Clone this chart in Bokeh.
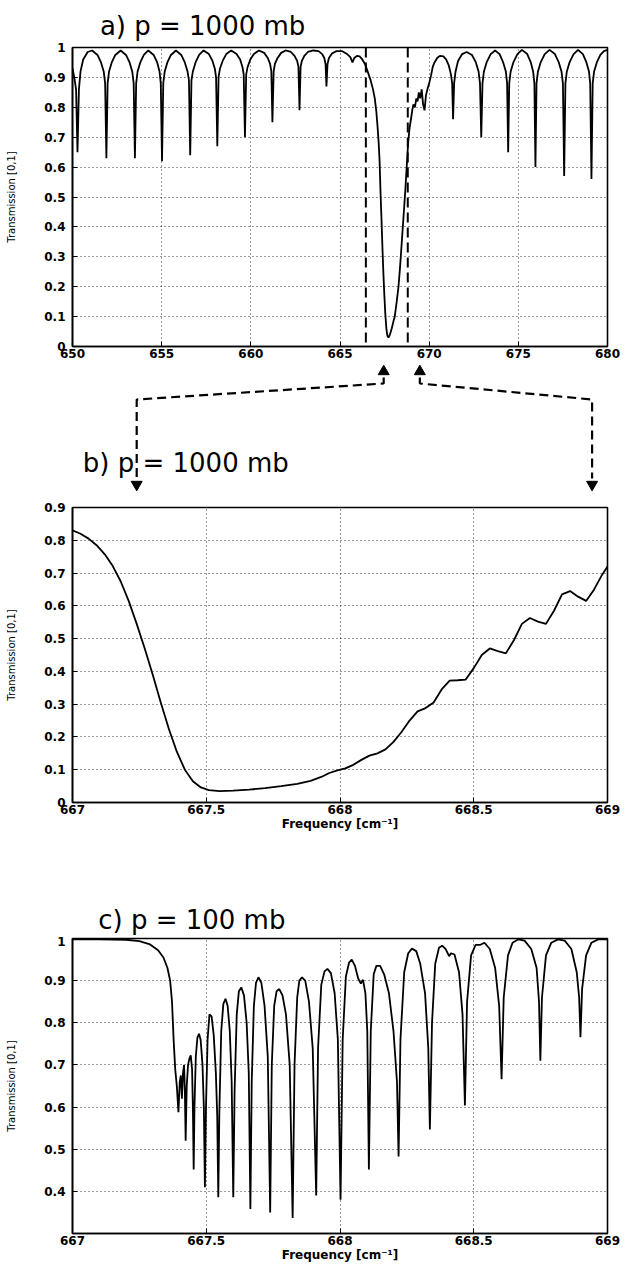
from bokeh.plotting import figure
from bokeh.layouts import column
from bokeh.models import Range1d, FixedTicker, Span
from bokeh.core.properties import value
from bokeh.embed import file_html
from bokeh.resources import INLINE

# ---------------- texts ----------------
panel_titles = ["a) p = 1000 mb", "b) p = 1000 mb", "c) p = 100 mb"]
y_axis_label = "Transmission [0,1]"
x_axis_label = "Frequency [cm\u207b\u00b9]"

# ---------------- ticks ----------------
a_x_ticks = [650, 655, 660, 665, 670, 675, 680]
a_x_tick_labels = ["650", "655", "660", "665", "670", "675", "680"]
a_y_ticks = [0, 0.1, 0.2, 0.3, 0.4, 0.5, 0.6, 0.7, 0.8, 0.9, 1]
a_y_tick_labels = ["0", "0.1", "0.2", "0.3", "0.4", "0.5", "0.6", "0.7", "0.8", "0.9", "1"]
bc_x_ticks = [667, 667.5, 668, 668.5, 669]
bc_x_tick_labels = ["667", "667.5", "668", "668.5", "669"]
b_y_ticks = [0, 0.1, 0.2, 0.3, 0.4, 0.5, 0.6, 0.7, 0.8, 0.9]
b_y_tick_labels = ["0", "0.1", "0.2", "0.3", "0.4", "0.5", "0.6", "0.7", "0.8", "0.9"]
c_y_ticks = [0.4, 0.5, 0.6, 0.7, 0.8, 0.9, 1]
c_y_tick_labels = ["0.4", "0.5", "0.6", "0.7", "0.8", "0.9", "1"]

# zoom window marked in panel a (dashed lines)
zoom_window = [666.45, 668.8]

# ---------------- panel a : p = 1000 mb, 650-680 cm-1 ----------------
a_freq = [
    650.00, 650.10, 650.20, 650.28, 650.36, 650.45, 650.60, 650.85, 651.10, 651.40,
    651.60, 651.75, 651.83, 651.90, 651.97, 652.05, 652.20, 652.40, 652.70, 653.00,
    653.20, 653.35, 653.43, 653.50, 653.57, 653.65, 653.80, 654.00, 654.25, 654.55,
    654.75, 654.88, 654.95, 655.02, 655.09, 655.17, 655.32, 655.52, 655.80, 656.10,
    656.30, 656.45, 656.53, 656.60, 656.67, 656.75, 656.90, 657.10, 657.35, 657.65,
    657.85, 657.98, 658.05, 658.12, 658.19, 658.27, 658.42, 658.62, 658.90, 659.20,
    659.40, 659.53, 659.60, 659.67, 659.74, 659.82, 659.97, 660.17, 660.45, 660.75,
    660.95, 661.08, 661.15, 661.21, 661.28, 661.35, 661.50, 661.70, 661.95, 662.25,
    662.45, 662.60, 662.67, 662.73, 662.79, 662.86, 663.00, 663.20, 663.50, 663.80,
    664.00, 664.12, 664.19, 664.24, 664.30, 664.38, 664.55, 664.80, 665.10, 665.40,
    665.58, 665.70, 665.80, 665.95, 666.10, 666.25, 666.40, 666.55, 666.72, 666.85,
    666.95, 667.03, 667.10, 667.17, 667.22, 667.27, 667.33, 667.38, 667.43, 667.48,
    667.54, 667.60, 667.66, 667.72, 667.80, 667.90, 668.00, 668.07, 668.18, 668.28,
    668.36, 668.42, 668.50, 668.58, 668.66, 668.74, 668.82, 668.90, 668.98, 669.05,
    669.12, 669.20, 669.28, 669.35, 669.42, 669.50, 669.58, 669.66, 669.74, 669.82,
    669.90, 670.00, 670.10, 670.20, 670.30, 670.45, 670.60, 670.80, 670.95, 671.10,
    671.22, 671.29, 671.34, 671.40, 671.48, 671.62, 671.85, 672.10, 672.40, 672.62,
    672.77, 672.85, 672.92, 672.99, 673.07, 673.22, 673.45, 673.70, 673.95, 674.15,
    674.30, 674.37, 674.43, 674.49, 674.57, 674.72, 674.95, 675.20, 675.50, 675.70,
    675.83, 675.90, 675.96, 676.02, 676.10, 676.25, 676.48, 676.75, 677.05, 677.27,
    677.42, 677.50, 677.57, 677.64, 677.72, 677.87, 678.10, 678.35, 678.62, 678.82,
    678.96, 679.03, 679.10, 679.17, 679.25, 679.40, 679.60, 679.80, 680.00,
]
a_trans = [
    0.930, 0.900, 0.860, 0.650, 0.860, 0.920, 0.960, 0.985, 0.990, 0.975,
    0.950, 0.920, 0.880, 0.630, 0.880, 0.920, 0.950, 0.975, 0.990, 0.975,
    0.950, 0.920, 0.880, 0.630, 0.880, 0.920, 0.950, 0.975, 0.990, 0.975,
    0.950, 0.920, 0.880, 0.620, 0.880, 0.920, 0.950, 0.975, 0.990, 0.975,
    0.950, 0.920, 0.890, 0.640, 0.890, 0.920, 0.950, 0.975, 0.990, 0.978,
    0.955, 0.930, 0.900, 0.670, 0.900, 0.930, 0.955, 0.978, 0.990, 0.978,
    0.960, 0.935, 0.910, 0.700, 0.910, 0.935, 0.960, 0.978, 0.990, 0.982,
    0.965, 0.945, 0.920, 0.750, 0.920, 0.945, 0.965, 0.982, 0.990, 0.985,
    0.972, 0.955, 0.935, 0.790, 0.935, 0.955, 0.972, 0.985, 0.990, 0.988,
    0.978, 0.965, 0.945, 0.870, 0.945, 0.965, 0.980, 0.988, 0.988, 0.978,
    0.968, 0.950, 0.965, 0.972, 0.970, 0.960, 0.945, 0.920, 0.890, 0.860,
    0.830, 0.790, 0.740, 0.680, 0.620, 0.520, 0.420, 0.330, 0.250, 0.180,
    0.110, 0.060, 0.035, 0.030, 0.040, 0.060, 0.085, 0.100, 0.150, 0.200,
    0.260, 0.310, 0.380, 0.450, 0.520, 0.600, 0.680, 0.730, 0.760, 0.790,
    0.810, 0.800, 0.830, 0.820, 0.850, 0.830, 0.860, 0.810, 0.790, 0.840,
    0.860, 0.880, 0.905, 0.935, 0.950, 0.965, 0.972, 0.970, 0.960, 0.940,
    0.910, 0.880, 0.760, 0.880, 0.920, 0.955, 0.978, 0.985, 0.975, 0.950,
    0.920, 0.880, 0.700, 0.880, 0.920, 0.950, 0.978, 0.990, 0.978, 0.950,
    0.920, 0.880, 0.650, 0.880, 0.920, 0.950, 0.978, 0.992, 0.978, 0.950,
    0.920, 0.880, 0.600, 0.880, 0.920, 0.950, 0.978, 0.992, 0.978, 0.950,
    0.920, 0.880, 0.570, 0.880, 0.920, 0.950, 0.978, 0.992, 0.978, 0.950,
    0.920, 0.880, 0.560, 0.880, 0.920, 0.950, 0.975, 0.988, 0.992,
]

# ---------------- panel b : p = 1000 mb, 667-669 cm-1 ----------------
b_freq = [
    667.00, 667.03, 667.06, 667.09, 667.12, 667.15, 667.18, 667.21, 667.24, 667.27,
    667.30, 667.33, 667.36, 667.39, 667.42, 667.45, 667.48, 667.51, 667.55, 667.60,
    667.66, 667.72, 667.78, 667.84, 667.89, 667.93, 667.96, 667.99, 668.02, 668.05,
    668.08, 668.11, 668.14, 668.17, 668.20, 668.23, 668.26, 668.29, 668.32, 668.35,
    668.38, 668.41, 668.44, 668.47, 668.50, 668.53, 668.56, 668.59, 668.62, 668.65,
    668.68, 668.71, 668.74, 668.77, 668.80, 668.83, 668.86, 668.89, 668.92, 668.95,
    668.98, 669.00,
]
b_trans = [
    0.830, 0.820, 0.805, 0.785, 0.758, 0.722, 0.675, 0.615, 0.545, 0.470,
    0.390, 0.305, 0.225, 0.155, 0.100, 0.065, 0.046, 0.038, 0.035, 0.036,
    0.039, 0.044, 0.050, 0.057, 0.066, 0.078, 0.090, 0.098, 0.104, 0.115,
    0.130, 0.143, 0.150, 0.162, 0.185, 0.215, 0.250, 0.278, 0.288, 0.305,
    0.345, 0.372, 0.373, 0.375, 0.410, 0.450, 0.470, 0.462, 0.455, 0.495,
    0.545, 0.563, 0.552, 0.545, 0.585, 0.635, 0.645, 0.628, 0.615, 0.650,
    0.695, 0.720,
]

# ---------------- panel c : p = 100 mb, 667-669 cm-1 ----------------
c_freq = [
    667.000, 667.100, 667.200, 667.250, 667.290, 667.320, 667.340, 667.355, 667.365, 667.372,
    667.378, 667.384, 667.390, 667.396, 667.401, 667.405, 667.409, 667.413, 667.417, 667.420,
    667.423, 667.427, 667.432, 667.437, 667.442, 667.447, 667.450, 667.453, 667.456, 667.461,
    667.467, 667.473, 667.479, 667.486, 667.491, 667.495, 667.499, 667.505, 667.512, 667.520,
    667.528, 667.536, 667.541, 667.545, 667.549, 667.556, 667.564, 667.572, 667.580, 667.588,
    667.595, 667.601, 667.606, 667.614, 667.622, 667.631, 667.641, 667.651, 667.659, 667.665,
    667.670, 667.678, 667.686, 667.695, 667.706, 667.718, 667.730, 667.739, 667.745, 667.754,
    667.763, 667.773, 667.785, 667.798, 667.812, 667.823, 667.830, 667.840, 667.848, 667.858,
    667.870, 667.884, 667.898, 667.911, 667.918, 667.930, 667.942, 667.953, 667.966, 667.980,
    667.992, 668.002, 668.010, 668.022, 668.034, 668.044, 668.056, 668.068, 668.078, 668.086,
    668.095, 668.102, 668.108, 668.115, 668.126, 668.136, 668.150, 668.165, 668.183, 668.200,
    668.213, 668.219, 668.226, 668.240, 668.255, 668.269, 668.285, 668.300, 668.318, 668.330,
    668.336, 668.344, 668.356, 668.370, 668.382, 668.395, 668.408, 668.415, 668.428, 668.445,
    668.458, 668.467, 668.475, 668.490, 668.507, 668.525, 668.540, 668.560, 668.580, 668.595,
    668.604, 668.612, 668.628, 668.645, 668.667, 668.690, 668.715, 668.735, 668.744, 668.749,
    668.755, 668.770, 668.790, 668.815, 668.840, 668.865, 668.885, 668.894, 668.899, 668.905,
    668.920, 668.940, 668.965, 669.000,
]
c_trans = [
    0.998, 0.998, 0.997, 0.994, 0.986, 0.972, 0.955, 0.930, 0.900, 0.850,
    0.760, 0.690, 0.650, 0.588, 0.660, 0.675, 0.620, 0.680, 0.700, 0.640,
    0.520, 0.650, 0.700, 0.715, 0.723, 0.690, 0.600, 0.452, 0.600, 0.720,
    0.765, 0.774, 0.760, 0.700, 0.600, 0.410, 0.600, 0.760, 0.820, 0.815,
    0.770, 0.680, 0.580, 0.386, 0.590, 0.780, 0.845, 0.857, 0.840, 0.780,
    0.660, 0.386, 0.640, 0.820, 0.875, 0.884, 0.865, 0.800, 0.680, 0.358,
    0.660, 0.840, 0.895, 0.908, 0.895, 0.840, 0.720, 0.350, 0.700, 0.840,
    0.875, 0.880, 0.865, 0.820, 0.700, 0.337, 0.700, 0.860, 0.900, 0.908,
    0.900, 0.850, 0.740, 0.390, 0.740, 0.890, 0.922, 0.928, 0.918, 0.870,
    0.760, 0.380, 0.760, 0.910, 0.943, 0.950, 0.935, 0.905, 0.893, 0.902,
    0.870, 0.780, 0.452, 0.780, 0.915, 0.935, 0.935, 0.915, 0.870, 0.780,
    0.660, 0.483, 0.760, 0.920, 0.965, 0.976, 0.970, 0.940, 0.870, 0.740,
    0.547, 0.800, 0.940, 0.978, 0.983, 0.975, 0.958, 0.965, 0.962, 0.920,
    0.820, 0.604, 0.850, 0.960, 0.985, 0.985, 0.990, 0.975, 0.930, 0.840,
    0.666, 0.860, 0.960, 0.990, 0.998, 0.995, 0.975, 0.930, 0.850, 0.710,
    0.860, 0.960, 0.990, 0.998, 0.995, 0.975, 0.920, 0.860, 0.766, 0.880,
    0.960, 0.990, 0.998, 0.998,
]

# ---------------- layout constants (page pixels) ----------------
PAGE_W = 625
TICK_FONT = "DejaVu Sans"


def make_panel(x_rng, y_rng, xt, xtl, yt, ytl, left, right, top, frame_h, bottom,
               xs, ys, with_xlabel):
    p = figure(width=PAGE_W, height=top + frame_h + bottom,
               x_range=Range1d(*x_rng), y_range=Range1d(*y_rng),
               output_backend="svg", toolbar_location=None,
               min_border_left=left - 8, min_border_right=8 + PAGE_W - right,
               min_border_top=top, min_border_bottom=bottom)
    p.background_fill_color = "white"
    p.border_fill_color = "white"
    p.outline_line_color = "black"
    p.outline_line_width = 1.6
    p.line(xs, ys, line_color="black", line_width=1.8)

    for ax, ticks, labels in ((p.xaxis[0], xt, xtl), (p.yaxis[0], yt, ytl)):
        ax.ticker = FixedTicker(ticks=ticks)
        ax.major_label_overrides = dict(zip(ticks, labels))
        ax.major_tick_in = 5
        ax.major_tick_out = 0
        ax.major_tick_line_color = "black"
        ax.minor_tick_line_color = None
        ax.axis_line_color = "black"
        ax.axis_line_width = 1.6
        ax.major_label_text_font = TICK_FONT
        ax.major_label_text_font_style = "bold"
        ax.major_label_text_font_size = "12px"
        ax.major_label_text_color = "black"

    p.yaxis.major_label_standoff = 7
    p.yaxis.axis_label = y_axis_label
    p.yaxis.axis_label_standoff = 24
    p.yaxis.axis_label_text_font = "DejaVu Sans"
    p.yaxis.axis_label_text_font_size = "10px"
    p.yaxis.axis_label_text_font_style = "normal"
    p.yaxis.axis_label_text_color = "black"

    p.xaxis.major_label_standoff = 2
    if with_xlabel:
        p.xaxis.axis_label = x_axis_label
        p.xaxis.axis_label_standoff = 0
        p.xaxis.axis_label_text_font = TICK_FONT
        p.xaxis.axis_label_text_font_size = "12px"
        p.xaxis.axis_label_text_font_style = "bold"
        p.xaxis.axis_label_text_color = "black"

    p.xgrid.ticker = FixedTicker(ticks=xt)
    p.ygrid.ticker = FixedTicker(ticks=yt)
    for g in (p.xgrid[0], p.ygrid[0]):
        g.grid_line_color = "black"
        g.grid_line_dash = "1 3"
        g.grid_line_width = 1
        g.grid_line_alpha = 0.8
    return p


def make_spacer(y0, y1):
    s = figure(width=PAGE_W, height=y1 - y0,
               x_range=Range1d(8, 8 + PAGE_W), y_range=Range1d(y1, y0),
               output_backend="svg", toolbar_location=None,
               x_axis_location=None, y_axis_location=None, min_border=0)
    s.grid.visible = False
    s.outline_line_color = None
    s.background_fill_color = "white"
    s.border_fill_color = "white"
    return s


def title_text(s, x, y, txt):
    s.text(x=[x], y=[y], text=[txt], text_font=value("DejaVu Sans"),
           text_font_size="26px", text_baseline="alphabetic", text_align="left",
           text_color="black")


# panel frames in page pixels
A_L, A_R = 76, 615
B_L, B_R = 80, 617

# ---- spacer 1 with title a
s1 = make_spacer(8, 50)
title_text(s1, 40, 33, panel_titles[0])

# ---- panel a
fig_a = make_panel((650, 680), (0, 1), a_x_ticks, a_x_tick_labels, a_y_ticks, a_y_tick_labels,
                   A_L, A_R, 5, 299, 18, a_freq, a_trans, False)
for z in zoom_window:
    fig_a.add_layout(Span(location=z, dimension="height", line_color="black",
                          line_width=2, line_dash="10 5"))

# ---- spacer 2 : zoom bracket + title b
s2 = make_spacer(372, 510)


def a_px(xv):
    return A_L + (xv - 650) / 30.0 * (A_R - A_L)


zl, zr = a_px(zoom_window[0]), a_px(zoom_window[1])
bl, br = B_L + 3, B_R - 2
s2.line([zl, zl, bl, bl], [385, 391, 407, 486], line_color="black", line_width=2.2,
        line_dash="9 5")
s2.line([zr, zr, br, br], [385, 391, 407, 486], line_color="black", line_width=2.2,
        line_dash="9 5")
s2.scatter([zl, zr], [379, 379], marker="triangle", size=11, color="black")
s2.scatter([bl, br], [492, 492], marker="inverted_triangle", size=11, color="black")
title_text(s2, 20, 470, panel_titles[1])

# ---- panel b
fig_b = make_panel((667, 669), (0, 0.9), bc_x_ticks, bc_x_tick_labels, b_y_ticks, b_y_tick_labels,
                   B_L, B_R, 5, 295, 40, b_freq, b_trans, True)

# ---- spacer 3 with title c
s3 = make_spacer(850, 944)
title_text(s3, 38, 927, panel_titles[2])

# ---- panel c
fig_c = make_panel((667, 669), (0.3, 1), bc_x_ticks, bc_x_tick_labels, c_y_ticks, c_y_tick_labels,
                   77, 615, 2, 295, 34, c_freq, c_trans, True)

layout = column(s1, fig_a, s2, fig_b, s3, fig_c, spacing=0)

open("out.html", "w").write(file_html(layout, INLINE))
